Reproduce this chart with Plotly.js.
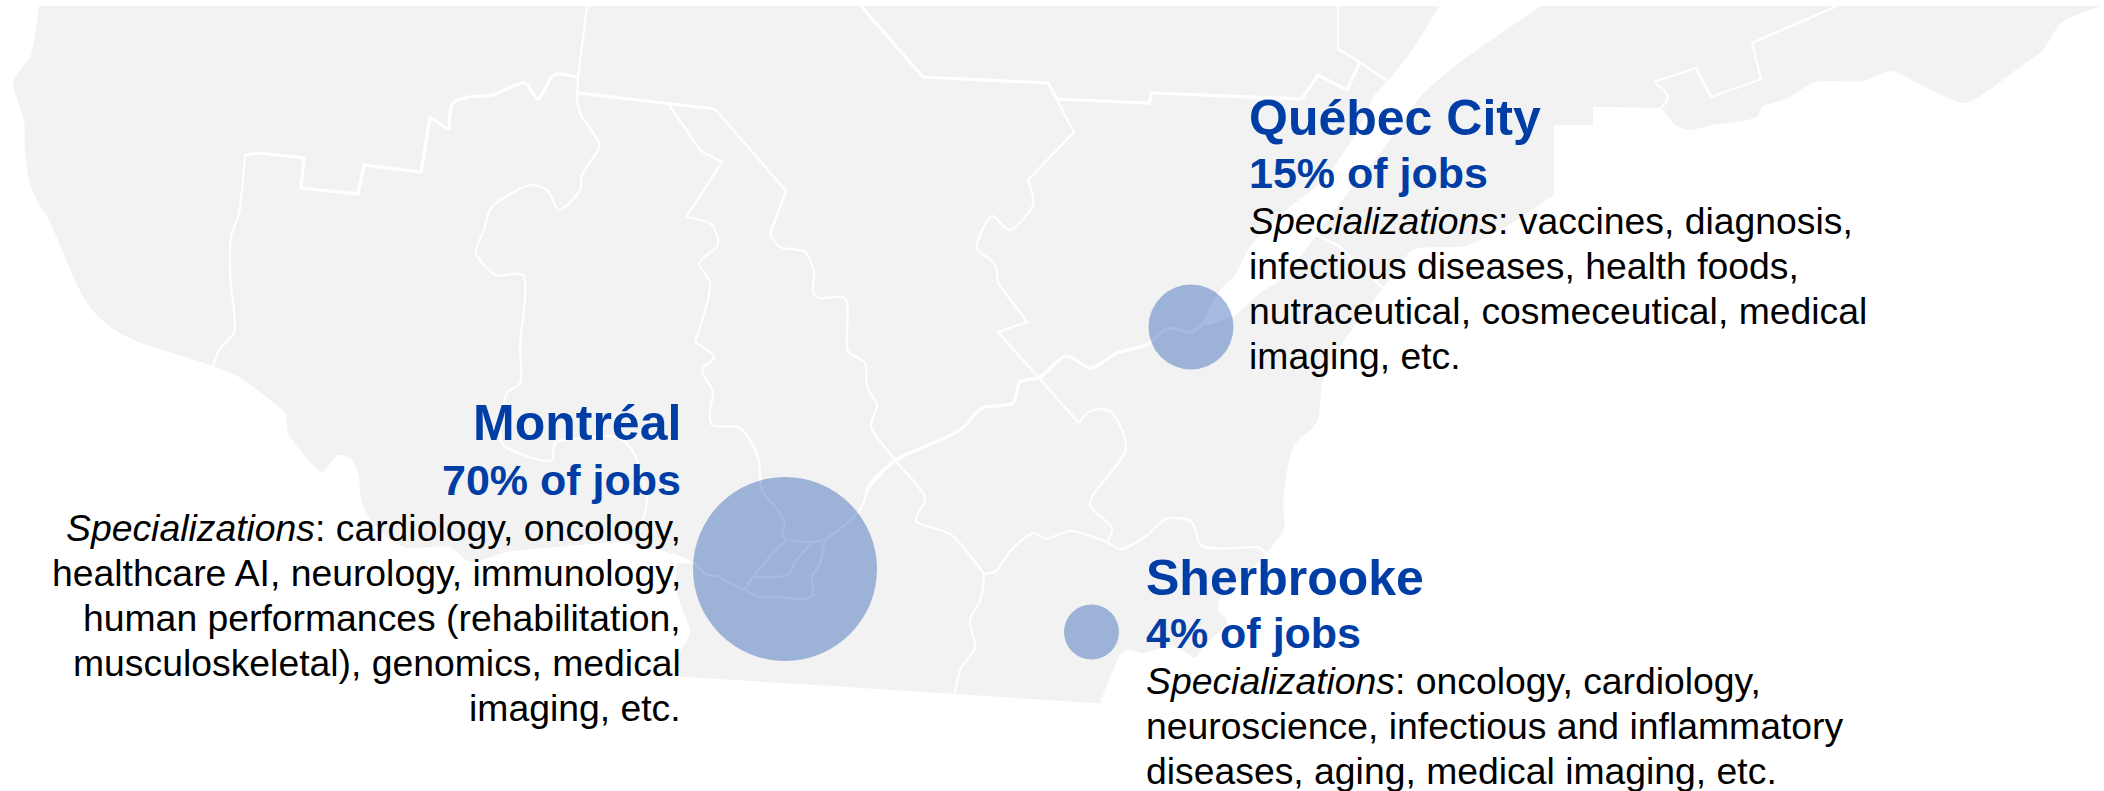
<!DOCTYPE html>
<html>
<head>
<meta charset="utf-8">
<script src="https://cdn.plot.ly/plotly-3.0.1.min.js"></script>
<style>html,body{margin:0;padding:0;background:#fff}#chart{width:2104px;height:791px}</style>
</head>
<body>
<div id="chart"></div>
<script>
// Data
var cityNames = ["Montréal", "Québec City", "Sherbrooke"];
var jobShares = [70, 15, 4];
var cityX = [785, 1191, 1091.5];
var cityY = [569, 327, 632];
var bubbleDiameters = [184, 85, 55];

var montrealLines = ["<i>Specializations</i>: cardiology, oncology,", "healthcare AI, neurology, immunology,", "human performances (rehabilitation,", "musculoskeletal), genomics, medical", "imaging, etc."];
var quebecLines = ["<i>Specializations</i>: vaccines, diagnosis,", "infectious diseases, health foods,", "nutraceutical, cosmeceutical, medical", "imaging, etc."];
var sherbrookeLines = ["<i>Specializations</i>: oncology, cardiology,", "neuroscience, infectious and inflammatory", "diseases, aging, medical imaging, etc."];

var landOutline = [[44,6],[39,6],[38.5,10],[31,55],[13,82],[24,120],[25,150],[29,180],[38,203],[49,220],[62,250],[78,287],[92,310],[112,328],[138,342],[172,353],[213,366],[239,377],[270,400],[285,413],[288,433],[300,450],[318,470],[323,472],[338,455],[350,458],[358,473],[362,503],[373,523],[390,540],[407,548],[450,547],[470,562],[507,552],[557,547],[623,543],[683,557],[692,563],[691,563.5],[678,563.5],[677,565],[677,593],[690,633],[680,653],[680,673],[680,677],[684,677],[800,684],[955,694],[1096,703],[1100,703],[1101,700],[1121,654],[1128,650],[1144,653],[1170,646],[1187,653],[1195,658],[1203,647],[1227,622],[1218,610],[1220,598],[1247,573],[1265,555],[1284,528],[1283,503],[1293,447],[1317,422],[1323,380],[1340,347],[1383,288],[1413,250],[1465,246],[1512,223],[1551,197],[1554,195],[1554,191],[1554,129],[1554,125],[1558,125],[1589,125],[1593,125],[1593,121],[1593,111],[1593,107],[1597,107],[1657,108],[1661,108],[1675,125],[1690,130],[1712,125],[1757,117],[1762,107],[1788,98],[1815,82],[1864,81],[1891,71],[1927,88],[1965,103],[1989,90],[2020,67],[2043,50],[2061,23],[2095,8],[2100,6],[2095,6]];
var riverOutline = [[1443,0],[1410,53],[1387,82],[1373,97],[1368,110],[1350,143],[1323,180],[1283,213],[1250,247],[1235,275],[1220,290],[1210,307],[1203,323],[1207,325],[1235,315],[1260,293],[1280,280],[1317,235],[1350,190],[1390,140],[1420,97],[1463,60],[1550,0]];

var straightThick = [
 [[259,153],[304,158],[301,188],[358,194],[364,165],[421,172],[430,117]],
 [[578,93],[640,100],[715,109]],
 [[861,6],[923,77],[1048,83],[1057,99],[1149,103],[1152,93],[1302,99],[1318,75],[1347,90],[1360,62]]
];
var curvedThick = [
 [[245,155],[259,153]],
 [[430,117],[449,130]],
 [[449,130],[453,103],[469,97],[493,95],[525,83],[538,99],[554,75],[578,77]],
 [[867,490],[893,462],[960,430],[982,408],[1013,403],[1020,382],[1040,377],[1066,356],[1091,368],[1117,353],[1146,345],[1169,328],[1191,332],[1204,323]]
];
var straightThin = [
 [[587,6],[578,77],[577,97]],
 [[669,105],[700,150],[706,154],[722,162],[686,217]],
 [[715,109],[786,191],[770,234]],
 [[1079,423],[998,332],[1027,322],[998,283]],
 [[1028,180],[1074,132],[1048,83]],
 [[1338,6],[1338,49],[1360,62],[1387,81]],
 [[1317,235],[1340,247],[1383,288]],
 [[1837,6],[1752,43],[1761,79],[1711,97],[1696,68],[1654,82]]
];
var curvedThin = [
 [[577,97],[580,113],[599,143],[598,150],[582,175],[580,190],[559,210],[547,190],[531,185],[491,208],[484,230],[476,253],[496,275],[523,275],[520,347],[520,383],[507,393],[502,443],[533,458],[552,460],[555,443],[583,438],[617,437],[632,450],[647,500],[640,527]],
 [[213,366],[219,350],[234,333],[234,310],[231,287],[231,237],[239,213],[245,155]],
 [[686,217],[712,225],[718,245],[699,263],[710,283],[695,342]],
 [[695,342],[714,357],[702,370],[713,392],[710,410],[712,425],[740,428],[758,457],[762,490],[780,513],[785,527],[782,533],[786,540]],
 [[786,540],[813,542],[825,539],[860,510],[870,483],[883,470],[893,462]],
 [[770,234],[780,247],[805,252],[814,272],[813,292],[820,298],[843,297],[847,303],[847,347],[849,353],[865,363],[867,387],[877,405],[871,426],[896,461],[925,498],[916,521],[950,534],[984,574]],
 [[984,574],[981,598],[970,621],[975,648],[961,668],[955,694]],
 [[984,574],[996,571],[1010,551],[1034,533],[1046,539],[1070,531],[1104,541],[1121,549],[1146,536],[1166,519],[1191,521],[1202,546],[1260,548],[1266,554]],
 [[1108,541],[1112,528],[1090,504],[1126,448],[1110,411],[1090,411],[1079,423]],
 [[998,283],[994,263],[977,248],[992,216],[1009,230],[1033,205],[1028,180]],
 [[786,540],[767,560],[753,577],[745,590]],
 [[813,542],[795,562],[790,573],[777,577],[753,577]],
 [[825,539],[820,563],[812,577],[813,595],[803,599],[777,597],[757,596],[745,590],[730,583],[717,576],[707,575],[693,562]],
 [[1654,82],[1668,97],[1661,108]]
];

var xs = function (p) { return p.map(function (q) { return q[0]; }); };
var ys = function (p) { return p.map(function (q) { return q[1]; }); };

var traces = [];
traces.push({type:"scatter", mode:"lines", x:xs(landOutline), y:ys(landOutline), fill:"toself", fillcolor:"#f2f2f2", line:{width:0, color:"#f2f2f2", shape:"spline", smoothing:0.7}, hoverinfo:"skip"});
traces.push({type:"scatter", mode:"lines", x:xs(riverOutline), y:ys(riverOutline), fill:"toself", fillcolor:"#ffffff", line:{width:0, color:"#ffffff", shape:"spline", smoothing:0.7}, hoverinfo:"skip"});
function addBorders(list, width, shape) {
  list.forEach(function (b) {
    traces.push({type:"scatter", mode:"lines", x:xs(b), y:ys(b), line:{color:"#ffffff", width:width, shape:shape, smoothing:0.8}, hoverinfo:"skip"});
  });
}
addBorders(curvedThin, 2.25, "spline");
addBorders(straightThin, 2.25, "linear");
addBorders(curvedThick, 3.25, "spline");
addBorders(straightThick, 3.25, "linear");
traces.push({type:"scatter", mode:"markers", x:cityX, y:cityY, text:cityNames, customdata:jobShares,
  marker:{size:bubbleDiameters, color:"#003DA5", opacity:0.35, line:{width:0}}, hovertemplate:"%{text}: %{customdata}% of jobs<extra></extra>"});

var BLUE = "#003DA5", FONT = "Liberation Sans, Arial, sans-serif";
var annotations = [];
function addText(text, x, baseline, size, color, bold, anchor) {
  annotations.push({xref:"x", yref:"y", x:x, y:baseline - size*0.33, xanchor:anchor, yanchor:"middle", showarrow:false, borderpad:0,
    align:anchor, text: bold ? "<b>"+text+"</b>" : text, font:{family:FONT, size:size, color:color}});
}
function addBlock(idx, lines, x, anchor, b1, b2, b3) {
  addText(cityNames[idx], x, b1, 50, BLUE, true, anchor);
  addText(jobShares[idx] + "% of jobs", x, b2, 43, BLUE, true, anchor);
  lines.forEach(function (l, i) { addText(l, x, b3 + i*45, 37.33, "#000000", false, anchor); });
}
addBlock(0, montrealLines, 682, "right", 439.5, 494, 540);
addBlock(1, quebecLines, 1248, "left", 134.5, 187, 233);
addBlock(2, sherbrookeLines, 1145, "left", 594, 647, 693);

var layout = {
  width:2104, height:791, margin:{l:0,r:0,t:0,b:0}, paper_bgcolor:"#ffffff", plot_bgcolor:"#ffffff", showlegend:false,
  xaxis:{range:[0,2104], visible:false, fixedrange:true},
  yaxis:{range:[791,0], visible:false, fixedrange:true},
  annotations:annotations
};
Plotly.newPlot("chart", traces, layout, {displayModeBar:false});
</script>
</body>
</html>
